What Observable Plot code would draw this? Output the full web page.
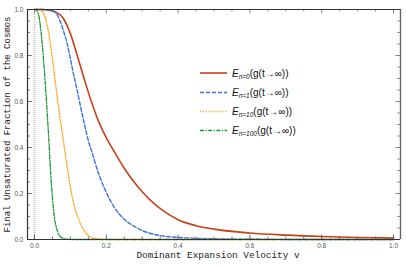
<!DOCTYPE html>
<html>
<head>
<meta charset="utf-8">
<script src="https://cdn.jsdelivr.net/npm/d3@7"></script>
<script src="https://cdn.jsdelivr.net/npm/@observablehq/plot@0.6"></script>
<style>
  html, body { margin: 0; padding: 0; background: #fff; }
</style>
</head>
<body>
<div id="chart"></div>
<script>
// ---- data ----
const seriesNames = ["n=0", "n=1", "n=10", "n=100"];

const vN0 = [0, 0.02, 0.04, 0.06, 0.08, 0.10, 0.12, 0.14, 0.16, 0.18, 0.20, 0.22, 0.25, 0.28, 0.30, 0.33, 0.36, 0.40, 0.45, 0.50, 0.60, 0.70, 0.80, 0.90, 1.00];
const yN0 = [1, 1.0, 0.997, 0.988, 0.962, 0.895, 0.795, 0.69, 0.592, 0.508, 0.442, 0.388, 0.31, 0.245, 0.208, 0.16, 0.123, 0.086, 0.06, 0.045, 0.028, 0.019, 0.013, 0.009, 0.006];

const vN1 = [0, 0.02, 0.04, 0.05, 0.06, 0.07, 0.08, 0.09, 0.10, 0.11, 0.12, 0.13, 0.14, 0.15, 0.16, 0.18, 0.20, 0.22, 0.25, 0.28, 0.30, 0.35, 0.40, 0.50, 0.60, 0.80, 1.00];
const yN1 = [1, 1, 0.998, 0.994, 0.984, 0.955, 0.91, 0.858, 0.785, 0.71, 0.64, 0.565, 0.495, 0.43, 0.38, 0.28, 0.205, 0.145, 0.088, 0.055, 0.039, 0.017, 0.009, 0.003, 0.001, 0, 0];

const vN10 = [0, 0.01, 0.02, 0.03, 0.04, 0.05, 0.06, 0.07, 0.08, 0.09, 0.10, 0.11, 0.12, 0.13, 0.14, 0.15, 0.17, 0.20, 0.30, 0.50, 1.00];
const yN10 = [1, 1, 0.993, 0.965, 0.894, 0.785, 0.66, 0.54, 0.435, 0.325, 0.227, 0.15, 0.10, 0.062, 0.035, 0.017, 0.004, 0, 0, 0, 0];

const vN100 = [0, 0.005, 0.01, 0.015, 0.02, 0.025, 0.03, 0.035, 0.04, 0.045, 0.05, 0.055, 0.06, 0.065, 0.07, 0.08, 0.10, 0.20, 0.50, 1.00];
const yN100 = [1, 0.998, 0.985, 0.945, 0.875, 0.785, 0.68, 0.56, 0.43, 0.29, 0.18, 0.10, 0.058, 0.032, 0.017, 0.005, 0, 0, 0, 0];

const xTickLabels = [0, 0.2, 0.4, 0.6, 0.8, 1.0];
const yTickLabels = [0, 0.2, 0.4, 0.6, 0.8, 1.0];
const minorTicks = d3.range(0, 21).map(i => i * 0.05);

const xLabel = "Dominant Expansion Velocity v";
const yLabel = "Final Unsaturated Fraction of the Cosmos";
const legendSubs = ["n=0", "n=1", "n=10", "n=100"];
const legendTail = "(g(t\u2192\u221E))";

// ---- styles ----
const colors = ["#c8401a", "#3f72dd", "#ffaa2a", "#1f9a3a"];
const dashes = [null, "4,2", "1.2,1.6", "4,1.5,1.2,1.5"];
const widths = [1.6, 1.4, 1.4, 1.3];

const build = (v, y, name) => v.map((d, i) => ({v: d, y: y[i], s: name}));
const lines = [
  build(vN0, yN0, seriesNames[0]),
  build(vN1, yN1, seriesNames[1]),
  build(vN10, yN10, seriesNames[2]),
  build(vN100, yN100, seriesNames[3])
];

const X0 = -0.0195, X1 = 1.0195;
const majorSet = new Set([0, 0.2, 0.4, 0.6, 0.8, 1.0].map(d => d.toFixed(2)));
const isMajor = d => majorSet.has(d.toFixed(2));
const majors = minorTicks.filter(isMajor);
const minors = minorTicks.filter(d => !isMajor(d));

const chart = Plot.plot({
  width: 407,
  height: 266,
  marginLeft: 27,
  marginRight: 7,
  marginTop: 9,
  marginBottom: 27,
  style: {background: "#fff", fontFamily: "Liberation Sans, Arial, sans-serif"},
  x: {domain: [X0, X1]},
  y: {domain: [0, 1]},
  marks: [
    // reference line at v = 0
    Plot.ruleX([0], {y1: 0, y2: 1, stroke: "#bdbdbd", strokeWidth: 1.6, strokeDasharray: "1,1"}),
    // curves
    ...lines.map((data, i) => Plot.line(data, {
      x: "v", y: "y", stroke: colors[i], strokeWidth: widths[i],
      strokeDasharray: dashes[i], curve: "monotone-x"
    })),
    // inward ticks: bottom
    Plot.ruleX(minors, {y1: 0, y2: 0.011, stroke: "#555", strokeWidth: 0.8}),
    Plot.ruleX(majors, {y1: 0, y2: 0.019, stroke: "#444", strokeWidth: 0.8}),
    // top
    Plot.ruleX(minors, {y1: 1, y2: 0.989, stroke: "#777", strokeWidth: 0.8}),
    Plot.ruleX(majors, {y1: 1, y2: 0.981, stroke: "#666", strokeWidth: 0.8}),
    // left
    Plot.ruleY(minors, {x1: X0, x2: X0 + 0.008, stroke: "#555", strokeWidth: 0.8}),
    Plot.ruleY(majors, {x1: X0, x2: X0 + 0.013, stroke: "#444", strokeWidth: 0.8}),
    // right
    Plot.ruleY(minors, {x1: X1, x2: X1 - 0.008, stroke: "#777", strokeWidth: 0.8}),
    Plot.ruleY(majors, {x1: X1, x2: X1 - 0.013, stroke: "#666", strokeWidth: 0.8}),
    // frame
    Plot.ruleY([0], {x1: X0, x2: X1, stroke: "#333", strokeWidth: 1.2}),
    Plot.ruleY([1], {x1: X0, x2: X1, stroke: "#333", strokeWidth: 1.2}),
    Plot.ruleX([X0], {y1: 0, y2: 1, stroke: "#333", strokeWidth: 1.2}),
    Plot.ruleX([X1], {y1: 0, y2: 1, stroke: "#666", strokeWidth: 1.4}),
    // tick labels
    Plot.axisX(xTickLabels, {tickSize: 0, tickPadding: 4, tickFormat: d3.format(".1f"), fontSize: 6.5, color: "#555", label: null}),
    Plot.axisY(yTickLabels, {tickSize: 0, tickPadding: 4, tickFormat: d3.format(".1f"), fontSize: 6.5, color: "#555", label: null}),
    // axis titles
    Plot.text([xLabel], {frameAnchor: "bottom", dy: 18, dx: 4, fontFamily: "Liberation Mono, Courier New, monospace", fontSize: 9.4, fill: "#222"}),
    Plot.text([yLabel], {frameAnchor: "left", dx: -20, rotate: -90, textAnchor: "middle", fontFamily: "Liberation Mono, Courier New, monospace", fontSize: 9, fill: "#222"})
  ]
});

// ---- legend inside the plot area ----
const svg = d3.select(chart);
const lg = svg.append("g")
  .attr("font-family", "Liberation Sans, Arial, sans-serif")
  .attr("fill", "#111")
  .attr("text-anchor", "start");
const rowY = [73, 92.5, 111.5, 130.5];
legendSubs.forEach((sub, i) => {
  lg.append("line")
    .attr("x1", 200).attr("x2", 227).attr("y1", rowY[i]).attr("y2", rowY[i])
    .attr("stroke", colors[i]).attr("stroke-width", widths[i])
    .attr("stroke-dasharray", dashes[i]);
  const t = lg.append("text").attr("x", 232).attr("y", rowY[i] + 3.5).attr("font-size", 10).attr("text-anchor", "start");
  t.append("tspan").attr("font-style", "italic").text("E");
  t.append("tspan").attr("font-style", "italic").attr("font-size", 6.5).attr("dy", 2).text(sub);
  t.append("tspan").attr("dy", -2).text(legendTail);
});

document.getElementById("chart").appendChild(chart);
</script>
</body>
</html>
